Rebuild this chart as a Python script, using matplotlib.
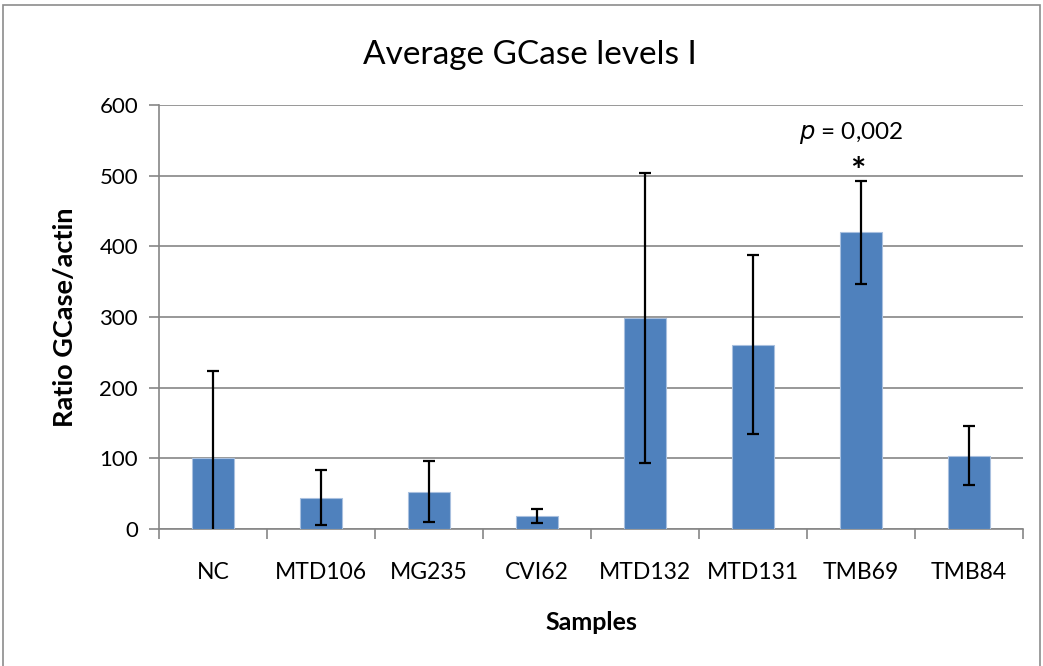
import matplotlib.pyplot as plt
import numpy as np
from matplotlib.patches import Rectangle

samples = ['NC', 'MTD106', 'MG235', 'CVI62', 'MTD132', 'MTD131', 'TMB69', 'TMB84']
ratio = [100, 44, 53, 18, 299, 261, 420, 104]
error = [123, 39, 43, 10, 205, 127, 73, 42]

plt.rcParams['font.family'] = ['Lato', 'DejaVu Sans']

fig = plt.figure(figsize=(10.43, 6.66), dpi=100)
fig.patches.append(Rectangle((0.003, -0.01), 0.994, 1.002, transform=fig.transFigure,
                             fill=False, edgecolor='#8c8c8c', linewidth=1.2))
ax = fig.add_axes([0.1524, 0.2057, 0.8286, 0.6366])

x = np.arange(len(samples))
ax.bar(x, ratio, width=0.39, color='#4F81BD', edgecolor='#a9c0df', linewidth=0.8, zorder=3)
ax.errorbar(x, ratio, yerr=error, fmt='none', ecolor='black', elinewidth=1.6,
            capsize=4.5, capthick=1.6, zorder=4)

ax.set_xlim(-0.5, len(samples) - 0.5)
ax.set_ylim(0, 600)
ax.set_yticks(range(0, 601, 100))
ax.yaxis.grid(True, color='#868686', linewidth=1.2, zorder=0)
ax.set_axisbelow(True)

ax.set_xticks(x)
ax.set_xticklabels(samples, fontsize=16.5)
ax.set_xticks(np.arange(-0.5, len(samples)), minor=True)
ax.tick_params(axis='x', which='major', length=0, pad=24)
ax.tick_params(axis='x', which='minor', length=7, width=1.2, color='#868686')
ax.tick_params(axis='y', length=7, width=1.2, color='#868686', labelsize=16, pad=8)

for s in ['top', 'right']:
    ax.spines[s].set_visible(False)
for s in ['left', 'bottom']:
    ax.spines[s].set_color('#868686')
    ax.spines[s].set_linewidth(1.2)

ax.set_xlabel('Samples', fontsize=18, fontweight='bold', labelpad=20)
ax.set_ylabel('Ratio GCase/actin', fontsize=19.5, fontweight='bold', labelpad=16)
fig.text(0.508, 0.918, 'Average GCase levels I', ha='center', va='center', fontsize=24)

# significance annotation above TMB69
ax.text(5.91, 560, '$p$ = 0,002', ha='center', va='center', fontsize=17.5)
ax.text(5.97, 505, '*', ha='center', va='center', fontsize=26, fontweight='bold')

fig.savefig('out.png', dpi=100)
